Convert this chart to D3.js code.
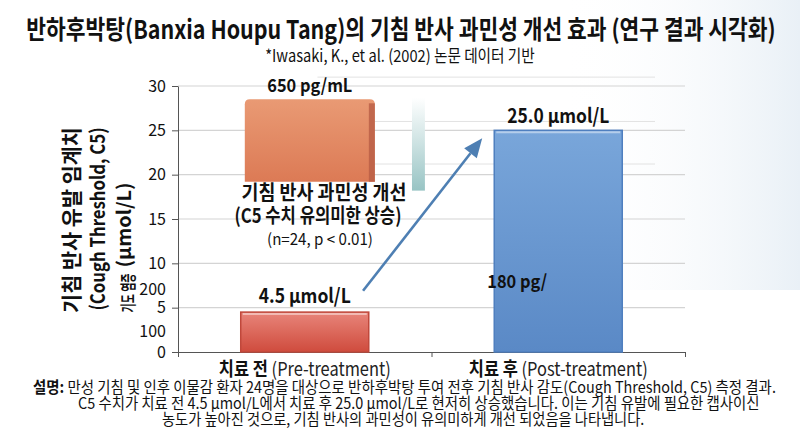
<!DOCTYPE html>
<html><head><meta charset="utf-8">
<script src="https://cdn.jsdelivr.net/npm/d3@7"></script>
<style>
body{margin:0;background:#fff}
svg{display:block}
text{font-family:"Noto Sans CJK KR","Noto Sans",sans-serif;fill:#111}
</style>
</head><body>
<svg id="c" width="800" height="436"></svg>
<script>
// ---- data ----
const categories = ["치료 전", "치료 후"];
const categoryEn = ["(Pre-treatment)", "(Post-treatment)"];
const c5Values = [4.5, 25.0];
const c5Labels = ["4.5 μmol/L", "25.0 μmol/L"];
const yTicks = [0, 5, 10, 15, 20, 25, 30];
const ghostTickLabels = ["100", "200"];
const ghostTickValues = [2.3, 7.0];
const ghostGridValues = [31, 26, 21.2];
const inflamLabels = ["650 pg/mL", "180 pg/"];
const orangeRange = [19.2, 28.5];
const tealRange = [18.2, 28.7];
const arrowFrom = [0.23, 6.9];
const arrowTo = [0.70, 24.1];
const annotation = ["기침 반사 과민성 개선", "(C5 수치 유의미한 상승)", "(n=24, p < 0.01)"];
const titleText = "반하후박탕(Banxia Houpu Tang)의 기침 반사 과민성 개선 효과 (연구 결과 시각화)";
const subtitleText = "*Iwasaki, K., et al. (2002) 논문 데이터 기반";
const yTitle = ["기침 반사 유발 임계치", "(Cough Threshold, C5)", "(μmol/L)", "기도 염증"];
const captionLines = [
  ["설명:", " 만성 기침 및 인후 이물감 환자 24명을 대상으로 반하후박탕 투여 전후 기침 반사 감도(Cough Threshold, C5) 측정 결과."],
  ["", "C5 수치가 치료 전 4.5 μmol/L에서 치료 후 25.0 μmol/L로 현저히 상승했습니다. 이는 기침 유발에 필요한 캡사이신"],
  ["", "농도가 높아진 것으로, 기침 반사의 과민성이 유의미하게 개선 되었음을 나타냅니다."]
];

// ---- setup ----
const svg = d3.select("#c");
const defs = svg.append("defs");
function lg(id, stops, x2, y2) {
  const g = defs.append("linearGradient").attr("id", id)
    .attr("x1", 0).attr("y1", 0).attr("x2", x2).attr("y2", y2);
  stops.forEach(s => g.append("stop").attr("offset", s[0]).attr("stop-color", s[1]).attr("stop-opacity", s[2] == null ? 1 : s[2]));
}
lg("bgR", [[0, "#ffffff", 0], [1, "#e9f0f6", 1]], 1, 0);
lg("redG", [[0, "#e8857a"], [1, "#cf4b3d"]], 0, 1);
lg("orG", [[0, "#e99a74"], [1, "#dc7a55"]], 0, 1);
lg("blG", [[0, "#79a6da"], [1, "#5a89c6"]], 0, 1);
lg("tlG", [[0, "#ffffff"], [1, "#98c4c4"]], 0, 1);

svg.append("rect").attr("x", 560).attr("y", 0).attr("width", 240).attr("height", 290).attr("fill", "url(#bgR)");

const y = d3.scaleLinear().domain([0, 30]).range([352, 86]);
const xPos = d3.scaleLinear().domain([-0.5, 1.5]).range([178, 685]);
const unit = xPos(1) - xPos(0);
const barW = 0.505;

// text placed at (x,y), horizontally scaled so its width becomes w
function label(x, yy, w, opts, parts) {
  const t = svg.append("text").attr("x", 0).attr("y", 0)
    .attr("text-anchor", opts.anchor || "middle")
    .attr("font-size", opts.fs).attr("font-weight", opts.fw || 400);
  if (opts.fill) t.attr("fill", opts.fill);
  parts.forEach(p => {
    const s = t.append("tspan").text(p[0]);
    if (p[1]) s.attr("font-weight", p[1]);
    if (p[2]) s.attr("fill", p[2]);
  });
  const len = t.node().getComputedTextLength();
  const sx = len > 0 ? w / len : 1;
  t.attr("transform", `translate(${x},${yy})${opts.rot ? " rotate(" + opts.rot + ")" : ""} scale(${sx},1)`);
  return t;
}

// ---- title ----
label(401, 39, 750, {fs: 26, fw: 700}, [[titleText]]);
label(400, 62, 270, {fs: 17, fill: "#222"}, [[subtitleText]]);

// ---- grid ----
const grid = svg.append("g");
grid.selectAll("line.g").data(yTicks.filter(v => v > 0)).join("line")
  .attr("x1", xPos(-0.5)).attr("x2", xPos(1.5))
  .attr("y1", d => y(d)).attr("y2", d => y(d))
  .attr("stroke", "#d4d4d4").attr("stroke-width", 1.2);
grid.selectAll("line.gg").data(ghostGridValues).join("line")
  .attr("x1", xPos(0.05)).attr("x2", xPos(1.5) - 30)
  .attr("y1", d => y(d)).attr("y2", d => y(d))
  .attr("stroke", "#e2e2e2").attr("stroke-width", 1);

// ---- axes ----
const yAxis = svg.append("g").attr("transform", `translate(${xPos(-0.5)},0)`)
  .call(d3.axisLeft(y).tickValues(yTicks).tickSize(6).tickSizeOuter(0).tickPadding(6));
yAxis.select(".domain").attr("stroke", "#555");
yAxis.selectAll(".tick line").attr("stroke", "#555");
yAxis.selectAll(".tick text").attr("font-size", 16).attr("fill", "#333")
  .attr("font-family", "'Noto Sans CJK KR',sans-serif");

svg.append("g").selectAll("text").data(ghostTickLabels).join("text")
  .attr("x", xPos(-0.5) - 12).attr("y", (d, i) => y(ghostTickValues[i]) + 5)
  .attr("text-anchor", "end").attr("font-size", 16).attr("fill", "#333").text(d => d);

const xAxis = svg.append("g").attr("transform", `translate(0,${y(0)})`)
  .call(d3.axisBottom(xPos).tickValues([-0.5, 0.5, 1.5]).tickFormat("").tickSize(5).tickSizeOuter(0));
xAxis.select(".domain").attr("stroke", "#555");
xAxis.selectAll(".tick line").attr("stroke", "#555");

// ---- bars ----
const bars = svg.append("g");
const oL = xPos(0.02 - 0.2565), oR = xPos(0.02 + 0.2565);
const oT = y(orangeRange[1]), oB = y(orangeRange[0]);
bars.append("path")
  .attr("d", `M${oL},${oB} L${oL},${oT + 5} Q${oL},${oT} ${oL + 5},${oT} L${oR - 5},${oT} Q${oR},${oT} ${oR},${oT + 5} L${oR},${oB} Z`)
  .attr("fill", "url(#orG)");
bars.append("rect").attr("x", oR - 6).attr("y", oT + 4).attr("width", 6)
  .attr("height", oB - oT - 4).attr("fill", "#b85c45").attr("opacity", 0.8);
bars.append("rect").attr("x", xPos(0.423)).attr("width", xPos(0.474) - xPos(0.423))
  .attr("y", y(tealRange[1])).attr("height", y(tealRange[0]) - y(tealRange[1]))
  .attr("fill", "url(#tlG)");

const fills = ["url(#redG)", "url(#blG)"];
const strokes = ["#c0483b", "#4f7fbf"];
bars.selectAll("rect.main").data(c5Values).join("rect").attr("class", "main")
  .attr("x", (d, i) => xPos(i - barW / 2)).attr("width", barW * unit)
  .attr("y", d => y(d)).attr("height", d => y(0) - y(d))
  .attr("fill", (d, i) => fills[i]).attr("stroke", (d, i) => strokes[i]).attr("stroke-width", 1.5);
bars.selectAll("line.hl").data(c5Values).join("line")
  .attr("x1", (d, i) => xPos(i - barW / 2) + 2).attr("x2", (d, i) => xPos(i + barW / 2) - 2)
  .attr("y1", d => y(d) + 2).attr("y2", d => y(d) + 2)
  .attr("stroke", "#ffffff").attr("stroke-opacity", 0.45).attr("stroke-width", 2);

// ---- arrow ----
const ax1 = xPos(arrowFrom[0]), ay1 = y(arrowFrom[1]), ax2 = xPos(arrowTo[0]), ay2 = y(arrowTo[1]);
const ang = Math.atan2(ay2 - ay1, ax2 - ax1);
const hl = 19, hw = 8;
const bx = ax2 - hl * Math.cos(ang), by = ay2 - hl * Math.sin(ang);
svg.append("line").attr("x1", ax1).attr("y1", ay1).attr("x2", bx).attr("y2", by)
  .attr("stroke", "#4e7fb3").attr("stroke-width", 2.6);
svg.append("path")
  .attr("d", `M${ax2},${ay2} L${bx + hw * Math.sin(ang)},${by - hw * Math.cos(ang)} L${bx - hw * Math.sin(ang)},${by + hw * Math.cos(ang)} Z`)
  .attr("fill", "#4e7fb3");

// ---- labels ----
const lblW = [92, 102];
c5Labels.forEach((t, i) => {
  label(xPos(i), y(c5Values[i] + 1.0 - i * 0.2), lblW[i], {fs: 20, fw: 700}, [[t]]);
});
label(xPos(0.02), y(29.3), 85, {fs: 18, fw: 700}, [[inflamLabels[0]]]);
label(xPos(0.72), y(7.2), 60, {fs: 18, fw: 700, anchor: "start"}, [[inflamLabels[1]]]);

const annY = [200, 223, 245], annW = [165, 167, 106], annX = [324, 318, 320];
annotation.forEach((t, i) => {
  label(annX[i], annY[i], annW[i], {fs: i < 2 ? 20 : 16, fw: i < 2 ? 700 : 400, fill: i < 2 ? "#111" : "#222"}, [[t]]);
});

// ---- x category labels ----
const xlW = [172, 179];
categories.forEach((c, i) => {
  label(xPos(i), 376, xlW[i], {fs: 19}, [[c + " ", 700, "#111"], [categoryEn[i], 400, "#222"]]);
});

// ---- y title ----
const yt = [
  {x: 79, cy: 220, w: 186, fs: 21},
  {x: 105, cy: 219, w: 183, fs: 20},
  {x: 131, cy: 225, w: 85, fs: 19},
  {x: 134, cy: 293, w: 39, fs: 16}
];
yTitle.forEach((t, i) => {
  const o = yt[i];
  label(o.x, o.cy, o.w, {fs: o.fs, fw: 700, rot: -90}, [[t]]);
});

// ---- caption ----
const capX = [33, 78, 162], capY = [393, 409, 425], capW = [743, 682, 483];
captionLines.forEach((l, i) => {
  const parts = [];
  if (l[0]) parts.push([l[0], 700]);
  parts.push([l[1], 400]);
  label(capX[i], capY[i], capW[i], {fs: 15.5, anchor: "start"}, parts);
});
</script>
</body></html>
